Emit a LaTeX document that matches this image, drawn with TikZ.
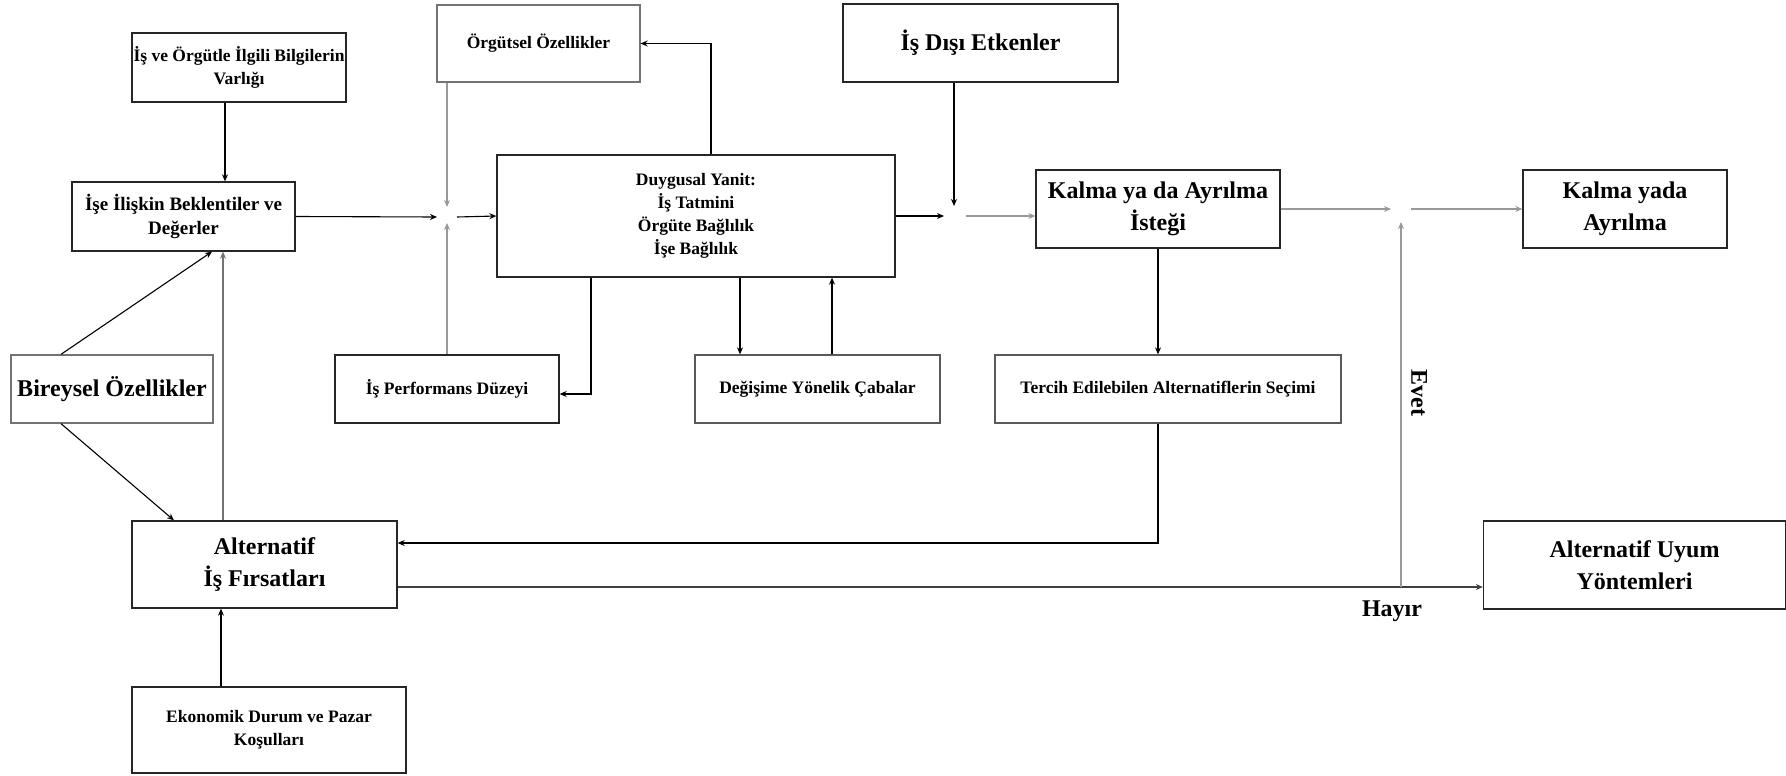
\documentclass[tikz,border=0pt]{standalone}
\usepackage{fontspec}
\setmainfont{Liberation Serif}
\usetikzlibrary{arrows.meta, calc, positioning}

\begin{document}
\begin{tikzpicture}[
    x=1pt, y=-1pt,
    >={Stealth[length=7pt, width=6pt]},
    box/.style={draw=black!85, line width=1.3pt, align=center, inner sep=0pt},
    small/.style={font=\bfseries\fontsize{17.5}{23}\selectfont},
    mid/.style={font=\bfseries\fontsize{19}{24}\selectfont},
    big/.style={font=\bfseries\fontsize{24}{32}\selectfont},
    conn/.style={->, line width=1.1pt},
    soft/.style={conn, black!40},
]
\useasboundingbox (0,0) rectangle (1786,776);
% boxes, top row
\node[box, small, minimum width=214pt, minimum height=69pt] (bilgi) at (239,67.5)
      {İş ve Örgütle İlgili Bilgilerin\\Varlığı};
\node[box, mid, minimum width=223pt, minimum height=69pt] (beklenti) at (183.5,216.5)
      {İşe İlişkin Beklentiler ve\\Değerler};
\node[box, small, draw=black!55, minimum width=203pt, minimum height=77pt] (orgut) at (538.5,43.5)
      {Örgütsel Özellikler};
\node[box, small, minimum width=398pt, minimum height=122pt] (duygu) at (696,216)
      {Duygusal Yanit:\\İş Tatmini\\Örgüte Bağlılık\\İşe Bağlılık};
\node[box, big, minimum width=275pt, minimum height=78pt] (disi) at (980.5,43)
      {İş Dışı Etkenler};
\node[box, big, minimum width=244pt, minimum height=78pt] (istek) at (1158,209)
      {Kalma ya da Ayrılma\\İsteği};
\node[box, big, minimum width=204pt, minimum height=78pt] (sonuc) at (1625,209)
      {Kalma yada\\Ayrılma};
% middle row
\node[box, big, draw=black!55, minimum width=202pt, minimum height=68pt] (bireysel) at (112,389)
      {Bireysel Özellikler};
\node[box, small, minimum width=224pt, minimum height=68pt] (performans) at (447,389)
      {İş Performans Düzeyi};
\node[box, small, draw=black!65, minimum width=245pt, minimum height=68pt] (degisim) at (817.5,389)
      {Değişime Yönelik Çabalar};
\node[box, small, draw=black!65, minimum width=346pt, minimum height=68pt] (tercih) at (1168,389)
      {Tercih Edilebilen Alternatiflerin Seçimi};
% bottom rows
\node[box, big, minimum width=265pt, minimum height=87pt] (alternatif) at (264.5,564.5)
      {Alternatif\\İş Fırsatları};
\node[box, big, minimum width=302pt, minimum height=88pt] (uyum) at (1634.5,565)
      {Alternatif Uyum\\Yöntemleri};
\node[box, small, minimum width=274pt, minimum height=86pt] (ekonomik) at (269,730)
      {Ekonomik Durum ve Pazar\\Koşulları};

% junctions and side points
\coordinate (jA) at (447,217);
\coordinate (jB) at (954,216);
\coordinate (jC) at (1401,209);
\coordinate (bIn) at ([xshift=-14pt]bilgi.south);
\coordinate (dDown) at ([xshift=44pt]duygu.south);
\coordinate (dUp) at ([xshift=136pt]duygu.south);
\coordinate (altUp) at ([xshift=-41.5pt]alternatif.north);
\coordinate (ekoUp) at ([xshift=-48pt]ekonomik.north);
\coordinate (altIn) at ([yshift=21.5pt]alternatif.east);
\coordinate (altOut) at ([yshift=-22.5pt]alternatif.east);

% connectors
\draw[conn] (bIn) -- (bIn |- beklenti.north);
\draw[conn] (beklenti.east) -- ([xshift=-10pt]jA);
\draw[conn] ([xshift=10pt]jA) -- (duygu.west);
\draw[soft] (orgut.south -| jA) -- ([yshift=10pt]jA);
\draw[soft] (performans.north) -- ([yshift=-6pt]jA);
\draw[conn] ([xshift=15pt]duygu.north) |- (orgut.east);
\draw[conn] ([xshift=-105pt]duygu.south) |- ([yshift=-5pt]performans.east);
\draw[conn] (dDown) -- (dDown |- degisim.north);
\draw[conn] (dUp |- degisim.north) -- (dUp);
\draw[conn] (duygu.east) -- ([xshift=-10pt]jB);
\draw[conn] (disi.south -| jB) -- ([yshift=10pt]jB);
\draw[soft] ([xshift=12pt]jB) -- (istek.west |- jB);
\draw[soft] (istek.east) -- ([xshift=-10pt]jC);
\draw[soft] ([xshift=10pt]jC) -- (sonuc.west);
\draw[conn] (istek.south) -- (istek.south |- tercih.north);
\draw[conn] (tercih.south -| istek.south) |- (altIn);
\draw[conn] ([xshift=-51pt]bireysel.north) -- ([xshift=28.5pt]beklenti.south);
\draw[conn] ([xshift=-51pt]bireysel.south) -- ([xshift=-90.5pt]alternatif.north);
\draw[soft, black!55] (altUp) -- (altUp |- beklenti.south);
\draw[conn] (ekoUp) -- (ekoUp |- alternatif.south);
\draw[conn, black!75] (altOut) -- (altOut -| uyum.west);
\draw[soft] (altOut -| jC) -- ([yshift=-13pt]jC);

% decision labels
\node[big, rotate=-90] (evet) at (1419,393) {Evet};
\node[big] (hayir) at (1392,611) {Hayır};
\end{tikzpicture}
\end{document}
